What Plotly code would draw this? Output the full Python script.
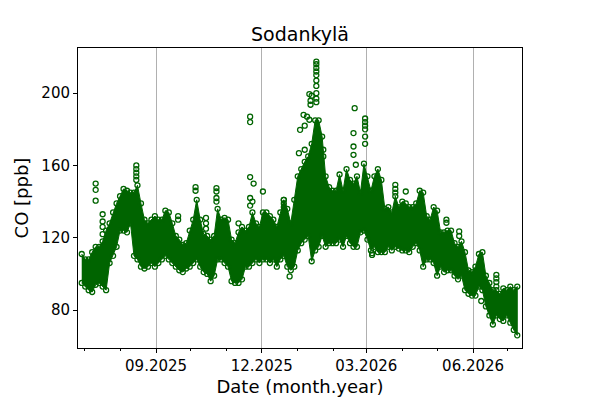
import plotly.graph_objects as go
import pandas as pd

# Station and axis texts
station = 'Sodankylä'
x_title = 'Date (month.year)'
y_title = 'CO [ppb]'

# Dense band of hourly CO, read every 3 days from 29.06.2025 (upper / lower edge, ppb)
band_start = '2025-06-29'
band_hi = [111, 108, 108, 112, 115, 115, 118, 124, 128, 134,
           139, 143, 147, 146, 145, 145, 149, 139, 130, 128,
           130, 132, 130, 130, 135, 134, 128, 121, 119, 116,
           117, 124, 130, 141, 130, 122, 121, 119, 121, 136,
           130, 131, 130, 119, 117, 123, 126, 124, 126, 134,
           128, 126, 134, 134, 132, 130, 126, 134, 141, 136,
           128, 141, 154, 158, 162, 165, 172, 185, 185, 176,
           154, 148, 146, 146, 155, 146, 158, 152, 150, 154,
           145, 161, 154, 146, 154, 158, 152, 136, 137, 134,
           143, 137, 140, 139, 137, 137, 139, 146, 145, 132,
           130, 137, 135, 123, 123, 124, 124, 117, 115, 118,
           112, 102, 101, 104, 111, 112, 99, 95, 91, 91,
           89, 92, 91, 93, 91, 93]
band_lo = [95, 93, 91, 90, 94, 95, 93, 91, 106, 110,
           115, 124, 124, 123, 128, 110, 108, 104, 103, 104,
           106, 104, 106, 108, 110, 108, 106, 104, 102, 101,
           103, 104, 106, 108, 104, 101, 100, 96, 99, 108,
           108, 106, 104, 96, 95, 95, 97, 104, 104, 106,
           108, 106, 108, 108, 106, 108, 104, 108, 110, 104,
           102, 104, 113, 117, 119, 121, 107, 113, 115, 121,
           115, 117, 117, 117, 119, 115, 121, 117, 115, 115,
           123, 124, 119, 113, 115, 112, 112, 112, 115, 113,
           115, 114, 113, 113, 112, 115, 117, 113, 104, 108,
           108, 106, 99, 104, 101, 102, 102, 99, 97, 99,
           91, 89, 88, 88, 93, 91, 82, 77, 72, 77,
           75, 74, 77, 73, 69, 66]

# Single hours standing out of the band
outlier_dates = ['2025-07-11', '2025-07-11', '2025-07-11',
                 '2025-07-17', '2025-07-17', '2025-07-17', '2025-07-17',
                 '2025-08-15', '2025-08-15', '2025-08-15', '2025-08-15', '2025-08-15',
                 '2025-09-20', '2025-09-20', '2025-10-05', '2025-10-05',
                 '2025-10-14', '2025-10-14', '2025-10-14',
                 '2025-10-23', '2025-10-23', '2025-10-23', '2025-10-23',
                 '2025-11-11', '2025-11-21', '2025-11-21', '2025-11-21', '2025-11-21',
                 '2025-11-21', '2025-11-23', '2025-11-24', '2025-12-02', '2025-12-06',
                 '2025-12-20', '2025-12-20', '2025-12-20', '2025-12-25',
                 '2026-01-02', '2026-01-03', '2026-01-06', '2026-01-07', '2026-01-07',
                 '2026-01-09', '2026-01-11', '2026-01-11', '2026-01-12', '2026-01-12',
                 '2026-01-13',
                 '2026-01-17', '2026-01-17', '2026-01-17', '2026-01-17', '2026-01-17',
                 '2026-01-17', '2026-01-17', '2026-01-17', '2026-01-17', '2026-01-17',
                 '2026-01-23', '2026-01-23',
                 '2026-02-19', '2026-02-18', '2026-02-18', '2026-02-18', '2026-02-20',
                 '2026-02-28', '2026-02-28', '2026-02-28', '2026-02-28', '2026-02-28',
                 '2026-02-28',
                 '2026-03-06', '2026-03-06', '2026-03-26', '2026-03-26', '2026-03-26',
                 '2026-04-04', '2026-05-09', '2026-05-09', '2026-05-20', '2026-05-20',
                 '2026-06-08', '2026-06-21', '2026-06-21', '2026-06-21', '2026-06-21']
outlier_co = [150, 146.5, 140.5,
              133, 129, 126, 122,
              160, 158, 156, 154, 152,
              132, 130, 148, 146,
              131, 128, 125,
              147.5, 145.6, 142, 140,
              128, 187, 184, 153.6, 142,
              137.8, 140, 150, 145.6, 130,
              141, 139, 137, 98.6,
              166.8, 179.7, 188, 168.7, 182,
              187, 185.3, 199.5, 195.8, 193.6,
              198.6,
              217.5, 216, 214, 212, 210,
              207, 204, 200, 197, 195,
              168.7, 165,
              191.7, 177.9, 170.5, 165.9, 160.4,
              186, 184, 182, 180, 176,
              172,
              111.5, 110.5, 149.3, 147, 145,
              145.6, 130, 128.3, 123.5, 121,
              85, 99.5, 97.5, 95.5, 93]

# Axis ticks
tick_dates = ['2025-09-01', '2025-12-01', '2026-03-01', '2026-06-01']
tick_labels = ['09.2025', '12.2025', '03.2026', '06.2026']
month_starts = pd.date_range('2025-07-01', '2026-07-01', freq='MS')
y_ticks = [80, 120, 160, 200]

green = '#006400'
band_dates = pd.date_range(band_start, periods=len(band_hi), freq='3D')

fig = go.Figure()

# filled core of the point cloud
fig.add_trace(go.Scatter(
    x=list(band_dates) + list(band_dates[::-1]),
    y=band_hi + band_lo[::-1],
    fill='toself', fillcolor=green, mode='lines',
    line=dict(color=green, width=1), hoverinfo='skip'))

# open circles on the edges and the loose points
pt_x = list(band_dates) + list(band_dates) + list(pd.to_datetime(outlier_dates))
pt_y = band_hi + band_lo + outlier_co
fig.add_trace(go.Scatter(
    x=pt_x, y=pt_y, mode='markers',
    marker=dict(symbol='circle-open', size=5, color=green, line=dict(width=1.3))))

axis_font = dict(family='DejaVu Sans', size=15, color='black')

# the page body adds 8 px around the figure, so the figure is 8 px smaller
fig.update_layout(
    width=592, height=392,
    margin=dict(l=70, r=78, t=40, b=52),
    paper_bgcolor='white', plot_bgcolor='white',
    showlegend=False,
    font=dict(family='DejaVu Sans', color='black'),
    title=dict(text=station, x=0.5, xanchor='center', y=0.932, yanchor='middle',
               xref='paper',
               font=dict(family='DejaVu Sans', size=19, color='black')),
)

fig.update_xaxes(
    range=['2025-06-25 19:00', '2026-07-13 02:00'],
    tickmode='array', tickvals=tick_dates, ticktext=tick_labels,
    tickfont=axis_font, ticks='outside', ticklen=4, tickwidth=1, tickcolor='black',
    showgrid=True, gridcolor='#b0b0b0', gridwidth=1,
    showline=True, linecolor='black', linewidth=1, mirror=True, zeroline=False,
    minor=dict(tickmode='array', tickvals=list(month_starts), ticks='outside',
               ticklen=2, tickcolor='black', showgrid=False),
    title=dict(text=x_title, font=dict(family='DejaVu Sans', size=18, color='black'),
               standoff=6),
    automargin=False)

fig.update_yaxes(
    range=[59, 225], tickmode='array', tickvals=y_ticks,
    tickfont=axis_font, ticks='outside', ticklen=4, tickwidth=1, tickcolor='black',
    showgrid=False, showline=True, linecolor='black', linewidth=1, mirror=True,
    zeroline=False,
    title=dict(text=y_title, font=dict(family='DejaVu Sans', size=18, color='black'),
               standoff=8),
    automargin=False)

fig.write_html('out.html')
